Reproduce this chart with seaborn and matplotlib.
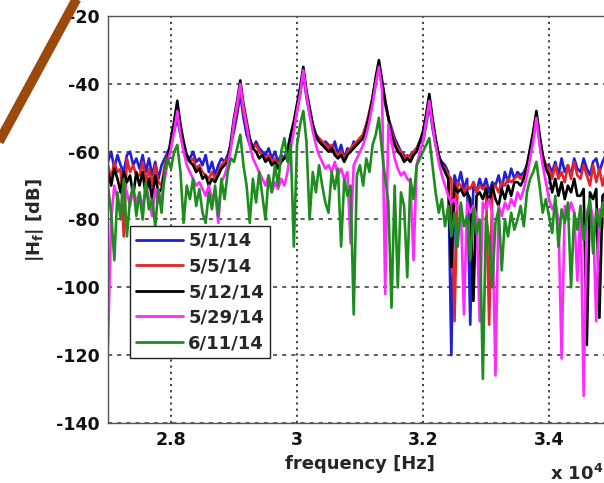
import numpy as np
import pandas as pd
import matplotlib
matplotlib.use("Agg")
import matplotlib.pyplot as plt
import seaborn as sns
from matplotlib.lines import Line2D

# Frequency sampling of the measured transfer functions (x 10^4 Hz)
F_START = 2.700
F_STEP = 0.005

dates = ["5/1/14", "5/5/14", "5/12/14", "5/29/14", "6/11/14"]
colors = ["#1f1fd6", "#e3262b", "#000000", "#ff2aff", "#1e8c1e"]

# |H_f| in dB, one value per frequency sample
h_0501 = [
    -63, -60, -65, -61, -64, -66, -61, -60, -64, -62,
    -65, -61, -66, -62, -67, -63, -68, -64, -62, -60,
    -58, -54, -50, -55, -59, -61, -62, -60, -63, -62,
    -64, -61, -66, -63, -67, -64, -62, -63, -61, -58,
    -54, -49, -43, -50, -55, -58, -59, -57, -59, -60,
    -61, -59, -62, -60, -63, -61, -62, -59, -55, -52,
    -48, -43, -37, -44, -49, -53, -56, -57, -58, -57,
    -58, -60, -57, -61, -58, -62, -59, -60, -57, -58,
    -56, -55, -52, -49, -45, -40, -34, -41, -46, -50,
    -53, -56, -58, -60, -61, -62, -61, -60, -59, -57,
    -57, -52, -46, -53, -58, -62, -63, -64, -66, -120,
    -67, -70, -66, -71, -68, -111, -69, -72, -68, -71,
    -68, -72, -69, -70, -67, -71, -66, -69, -65, -68,
    -66, -67, -66, -64, -61, -56, -50, -57, -62, -64,
    -64, -66, -63, -67, -62, -66, -64, -67, -62, -65,
    -66, -62, -65, -67, -63, -62, -66, -63, -61, -65,
    -65,
]
h_0505 = [
    -64, -68, -63, -66, -65, -85, -62, -66, -64, -67,
    -67, -63, -69, -65, -70, -64, -69, -70, -64, -61,
    -58, -53, -47, -54, -59, -62, -63, -62, -65, -64,
    -66, -67, -68, -66, -68, -66, -64, -63, -62, -58,
    -52, -47, -41, -48, -53, -57, -59, -58, -60, -61,
    -62, -61, -63, -62, -64, -62, -62, -60, -56, -52,
    -47, -42, -36, -43, -48, -52, -55, -56, -57, -58,
    -59, -58, -60, -61, -60, -62, -60, -59, -58, -57,
    -56, -55, -52, -48, -44, -39, -34, -40, -45, -50,
    -54, -57, -59, -60, -62, -61, -62, -60, -59, -57,
    -55, -50, -44, -51, -57, -61, -64, -65, -67, -68,
    -110, -69, -70, -72, -70, -71, -69, -72, -70, -71,
    -70, -111, -71, -70, -72, -69, -70, -68, -69, -68,
    -67, -68, -67, -64, -60, -55, -49, -56, -61, -64,
    -65, -68, -64, -68, -66, -69, -64, -68, -63, -67,
    -68, -64, -67, -70, -64, -69, -65, -70, -66, -67,
    -67,
]
h_0512 = [
    -66, -70, -65, -68, -72, -66, -69, -67, -73, -66,
    -70, -66, -73, -68, -74, -67, -72, -71, -66, -62,
    -56, -51, -45, -52, -57, -61, -63, -64, -66, -65,
    -68, -67, -70, -68, -69, -67, -65, -64, -63, -57,
    -50, -45, -39, -46, -51, -56, -59, -60, -62, -61,
    -63, -62, -64, -63, -65, -63, -62, -61, -55, -51,
    -46, -41, -35, -42, -47, -52, -55, -57, -58, -59,
    -60, -59, -61, -62, -61, -63, -61, -60, -59, -58,
    -57, -56, -53, -49, -44, -38, -33, -39, -45, -50,
    -55, -58, -60, -61, -63, -62, -63, -61, -60, -57,
    -54, -49, -43, -50, -56, -61, -64, -66, -68, -94,
    -70, -72, -71, -73, -72, -74, -104, -73, -72, -74,
    -71, -75, -70, -74, -76, -71, -74, -70, -73, -69,
    -69, -70, -68, -64, -59, -54, -48, -55, -61, -65,
    -67, -72, -68, -73, -69, -74, -70, -72, -68, -73,
    -73, -71, -117, -72, -74, -71, -109, -73, -72, -74,
    -72,
]
h_0529 = [
    -117, -80, -70, -74, -78, -69, -72, -76, -71, -75,
    -72, -77, -70, -74, -79, -71, -75, -73, -68, -63,
    -59, -54, -48, -55, -60, -64, -66, -68, -70, -69,
    -71, -73, -70, -74, -72, -81, -69, -67, -64, -59,
    -51, -46, -40, -47, -52, -58, -62, -64, -66, -68,
    -70, -67, -72, -69, -71, -68, -70, -66, -59, -54,
    -48, -43, -36, -43, -49, -54, -58, -61, -63, -65,
    -64, -66, -63, -67, -65, -68, -66, -87, -64, -62,
    -60, -58, -55, -51, -46, -40, -35, -42, -102, -52,
    -57, -62, -65, -67, -66, -68, -69, -92, -64, -60,
    -57, -51, -45, -52, -58, -63, -67, -70, -73, -75,
    -74, -77, -76, -108, -75, -78, -76, -79, -110, -75,
    -77, -74, -78, -126, -76, -79, -75, -77, -74, -76,
    -72, -74, -71, -67, -62, -57, -50, -58, -64, -69,
    -74, -77, -75, -80, -121, -76, -79, -75, -78, -98,
    -76, -132, -78, -75, -80, -110, -77, -79, -76, -80,
    -78,
]
h_0611 = [
    -70, -78, -92, -72, -80, -68, -85, -74, -70, -79,
    -72, -80, -69, -77, -74, -82, -71, -78, -66, -62,
    -65, -60, -58, -66, -81, -70, -74, -68, -76, -71,
    -78, -81, -72, -77, -70, -79, -68, -74, -66, -62,
    -63, -59, -55, -64, -70, -81, -68, -75, -66, -73,
    -80, -67, -72, -64, -70, -60, -56, -63, -58, -88,
    -58, -52, -48, -57, -80, -66, -72, -64, -70, -75,
    -78, -66, -71, -65, -88, -68, -73, -70, -108, -67,
    -64, -70, -62, -66, -58, -55, -50, -60, -68, -75,
    -106, -70, -100, -72, -76, -97, -68, -74, -64, -62,
    -60, -58, -56, -64, -72, -78, -74, -82, -76, -85,
    -78, -88, -75, -82, -79, -92, -77, -84, -80, -127,
    -79, -86, -100, -81, -77, -95, -80, -85, -78, -83,
    -80, -76, -82, -72, -68, -66, -63, -70, -78, -74,
    -79, -84, -73, -88, -77, -81, -75, -100, -78, -83,
    -76, -86, -79, -74, -90, -77, -82, -75, -85, -78,
    -80,
]

x_ticks = [2.8, 3.0, 3.2, 3.4]
x_tick_labels = ["2.8", "3", "3.2", "3.4"]
y_ticks = [-140, -120, -100, -80, -60, -40, -20]

sns.set_theme(style="white")
plt.rcParams["font.family"] = ["DejaVu Sans"]
plt.rcParams["font.weight"] = "bold"
plt.rcParams["mathtext.default"] = "bf"
plt.rcParams["axes.unicode_minus"] = False

series = [h_0501, h_0505, h_0512, h_0529, h_0611]
freq = F_START + F_STEP * np.arange(len(h_0501))
df = pd.concat(
    [pd.DataFrame({"freq": freq, "level": vals, "date": d}) for d, vals in zip(dates, series)],
    ignore_index=True,
)

W, H = 604, 483
fig = plt.figure(figsize=(W / 100, H / 100), dpi=100)
ax = fig.add_axes([108 / W, 60 / H, 504 / W, 407 / H])

sns.lineplot(
    data=df, x="freq", y="level", hue="date", hue_order=dates,
    palette=colors, linewidth=1.9, estimator=None, sort=False,
    legend=False, ax=ax,
)

ax.set_xlim(2.7, 3.5)
ax.set_ylim(-140, -20)
ax.set_xticks(x_ticks)
ax.set_xticklabels(x_tick_labels)
ax.set_yticks(y_ticks)

ax.set_axisbelow(True)
ax.xaxis.grid(True, linestyle=(0, (1.2, 2.2)), color="#333333", linewidth=1.3)
ax.yaxis.grid(True, linestyle=(0, (2.5, 3.0)), color="#444444", linewidth=1.2)

for side in ["top", "left", "bottom", "right"]:
    ax.spines[side].set_color("#555555")
    ax.spines[side].set_linewidth(1.0)

ax.tick_params(axis="both", direction="in", length=4, width=0.8,
               labelsize=12.5, pad=6, colors="#111111")
for lbl in ax.get_xticklabels() + ax.get_yticklabels():
    lbl.set_fontweight("bold")

ax.set_xlabel("frequency [Hz]", fontsize=13, fontweight="bold", labelpad=4)
ax.set_ylabel(r"|H$_\mathbf{f}$| [dB]", fontsize=13, fontweight="bold", labelpad=7)

fig.text(550 / W, 1 - 480 / H, r"x 10$^\mathbf{4}$", fontsize=13,
         fontweight="bold", ha="left", va="baseline")

handles = [Line2D([0], [0], color=c, linewidth=2.0) for c in colors]
leg = ax.legend(
    handles, dates, loc="upper left", bbox_to_anchor=(22 / 504, (423 - 226) / 407),
    borderaxespad=0, fontsize=13, handlelength=2.6, handletextpad=0.3,
    labelspacing=0.42, borderpad=0.33, fancybox=False, framealpha=1,
    edgecolor="#222222",
)
leg.get_frame().set_linewidth(1.0)
for t in leg.get_texts():
    t.set_fontweight("bold")

# diagonal pointer stroke across the upper-left corner
fig.add_artist(Line2D([-10 / W, 86 / W], [1 - 158.4 / H, 1 + 18.4 / H],
                      transform=fig.transFigure, color="#9b4a0c",
                      linewidth=7, solid_capstyle="butt"))

fig.savefig("out.png", dpi=100)
